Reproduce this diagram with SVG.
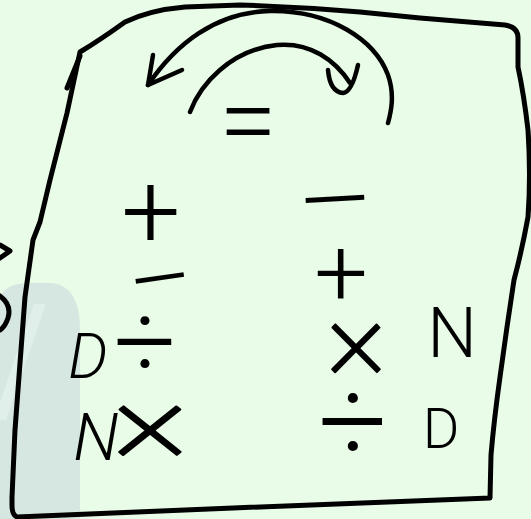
<svg xmlns="http://www.w3.org/2000/svg" width="531" height="519" viewBox="0 0 531 519">
<style>
.ink{fill:none;stroke:#000;stroke-width:5;stroke-linecap:round;stroke-linejoin:round}
.arc{fill:none;stroke:#000;stroke-width:4.5;stroke-linecap:round;stroke-linejoin:round}
.t{font-family:Roboto,"Liberation Sans",Arial,sans-serif;font-weight:300;fill:#000;text-anchor:middle}
.x{font-family:Lato,Roboto,"Liberation Sans",sans-serif;font-weight:300;stroke:#000;stroke-width:2;stroke-linejoin:round}
</style>
<rect width="531" height="519" fill="#e9fce8"/>
<g id="watermark">
<path d="M0,298 Q4,284 28,283 L52,283 Q80,286 80,330 L80,519 L0,519 Z" fill="#d6e7e1"/>
<path d="M34,304 L46,304 L6,420 L0,420 L0,402 Z" fill="#e0efe9"/>
</g>
<g id="fragments">
<path class="ink" d="M0,245 L10,251 L0,258"/>
<path class="ink" d="M0,296 Q12,305 8,318 Q5,327 0,330"/>
</g>
<g id="frame">
<path class="ink" d="M80,52 Q100,40 125,22 Q150,10 185,7 L240,5 Q300,7 360,12 L420,18 L505,25 Q518,27 518,38 L518,67 Q524,95 528,130 Q531,175 528,217 Q522,250 514,280 L507,327 L500,377 Q494,420 491,455 L490,498 L233,508 L17,517 Q12,515 12,505 L12,497 L15,430 L20,363 L25,297 L33,240 L40,222 L50,180 L67,113 Z"/>
<path class="ink" d="M67,88 L80,56"/>
</g>
<g id="connectors">
<path class="arc" d="M148,85 C175,45 215,12 270,11 C330,10 375,40 388,75 C395,95 391,112 388,123"/>
<path class="arc" d="M153,55 L148,85 L182,70"/>
<path class="arc" d="M190,112 C200,85 230,50 277,45 C310,42 335,60 350,83"/>
<path class="arc" d="M328,70 Q330,92 343,93 Q352,92 358,65"/>
</g>
<g id="equals"><text class="t" x="248" y="157" font-size="105">=</text></g>
<g id="plus-left"><text class="t" x="151" y="247" font-size="105">+</text></g>
<g id="minus-right"><text class="t" x="335" y="235" font-size="100" textLength="82" lengthAdjust="spacingAndGlyphs" transform="rotate(-3 335 200)">−</text></g>
<g id="minus-left"><text class="t" x="160" y="312" font-size="95" textLength="68" lengthAdjust="spacingAndGlyphs" transform="rotate(-8 160 279)">−</text></g>
<g id="plus-right"><text class="t" x="341" y="305" font-size="95">+</text></g>
<g id="d-div"><text class="t"><tspan x="88" y="378" font-size="62" font-style="italic">D</tspan><tspan x="145" y="379" font-size="110">÷</tspan></text></g>
<g id="times-n"><text class="t"><tspan class="x" x="356" y="386" font-size="112">×</tspan><tspan x="452" y="357" font-size="70">N</tspan></text></g>
<g id="n-times"><text class="t" x="96" y="460" font-size="66" font-style="italic">N</text><text class="t x" x="150" y="469" font-size="115" transform="translate(150 430) scale(1.25 1) translate(-150 -430)">×</text></g>
<g id="div-d"><text class="t"><tspan x="353" y="464" font-size="122">÷</tspan><tspan x="441" y="448" font-size="56">D</tspan></text></g>
</svg>
